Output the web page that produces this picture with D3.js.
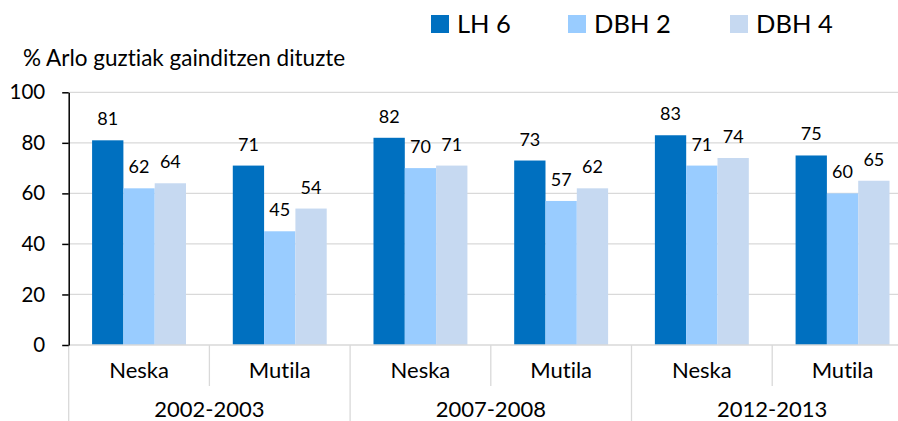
<!DOCTYPE html>
<html><head><meta charset="utf-8">
<script src="https://cdn.jsdelivr.net/npm/d3@7"></script>
<style>
html,body{margin:0;padding:0;background:#fff;}
svg{display:block;font-family:Lato, "Open Sans", sans-serif;font-variant-ligatures:none;}
svg text{font-variant-ligatures:none;font-feature-settings:"liga" 0, "clig" 0;}
</style></head>
<body>
<svg id="chart" width="898" height="421"></svg>
<script>
const years = ["2002-2003","2007-2008","2012-2013"];
const genders = ["Neska","Mutila"];
const series = ["LH 6","DBH 2","DBH 4"];
const colors = ["#0070C0","#99CCFF","#C6D9F1"];
const lh6  = [81,71,82,73,83,75];
const dbh2 = [62,45,70,57,71,60];
const dbh4 = [64,54,71,62,74,65];
const yTicks = [0,20,40,60,80,100];
const yTitle = "% Arlo guztiak gainditzen dituzte";

const values = [lh6, dbh2, dbh4];
const cats = [];
years.forEach((y,i)=>genders.forEach((g,j)=>cats.push({id:i*2+j, year:y, gender:g})));

const svg = d3.select("#chart");
const x0 = 68.7, catW = 140.7;
const x = d3.scaleBand().domain(cats.map(c=>c.id)).range([x0, x0+catW*cats.length]).padding(0);
const xs = d3.scaleBand().domain(series).range([0, x.bandwidth()]).paddingInner(0).paddingOuter(0.747);
const y = d3.scaleLinear().domain([0,100]).range([345, 92.3]);
const gridColor = "#d9d9d9";

// gridlines
svg.append("g").selectAll("line").data(yTicks.filter(t=>t>0)).join("line")
  .attr("x1", x0).attr("x2", 898).attr("y1", d=>y(d)).attr("y2", d=>y(d))
  .attr("stroke", gridColor).attr("stroke-width", 1.3);

// bars
series.forEach((s,si)=>{
  svg.append("g").selectAll("rect").data(cats).join("rect")
    .attr("x", c=>x(c.id)+xs(s)).attr("width", xs.bandwidth())
    .attr("y", c=>y(values[si][c.id])).attr("height", c=>y(0)-y(values[si][c.id]))
    .attr("fill", colors[si]);
  svg.append("g").selectAll("text").data(cats).join("text")
    .attr("x", c=>x(c.id)+xs(s)+xs.bandwidth()/2)
    .attr("y", c=>y(values[si][c.id])-15)
    .attr("text-anchor","middle").attr("font-size", 18).attr("fill","#000")
    .text(c=>values[si][c.id]);
});

// x axis line
svg.append("line").attr("x1", x0).attr("x2", 898).attr("y1", y(0)).attr("y2", y(0))
  .attr("stroke", gridColor).attr("stroke-width", 1.5);

// category dividers
cats.forEach((c,i)=>{
  const xx = x(c.id);
  const full = (i % 2 === 0);
  svg.append("line").attr("x1", xx).attr("x2", xx).attr("y1", y(0)).attr("y2", full ? 421 : 386)
    .attr("stroke", gridColor).attr("stroke-width", 1.3);
});

// category labels
svg.append("g").selectAll("text").data(cats).join("text")
  .attr("x", c=>x(c.id)+x.bandwidth()/2).attr("y", 378)
  .attr("text-anchor","middle").attr("font-size", 22).attr("fill","#000")
  .text(c=>c.gender);
svg.append("g").selectAll("text").data(years).join("text")
  .attr("x", (d,i)=>x(i*2)+x.bandwidth()).attr("y", 417)
  .attr("text-anchor","middle").attr("font-size", 22).attr("fill","#000")
  .text(d=>d);

// y axis
const yAxis = d3.axisLeft(y).tickValues(yTicks).tickSize(6.5).tickPadding(17).tickSizeOuter(0);
const ya = svg.append("g").attr("transform", `translate(${x0},0)`).call(yAxis);
ya.select(".domain").attr("stroke","#000").attr("stroke-width",1.5);
ya.selectAll(".tick line").attr("stroke","#000").attr("stroke-width",1.5);
ya.selectAll(".tick text").attr("font-size", 20.5).attr("font-family","Lato, sans-serif").attr("fill","#000");

// y title
svg.append("text").attr("x", 23).attr("y", 66).attr("font-size", 22.5).attr("fill","#000").text(yTitle);

// legend
const legX = [431, 568, 730];
series.forEach((s,i)=>{
  svg.append("rect").attr("x", legX[i]).attr("y", 15).attr("width", 18).attr("height", 18).attr("fill", colors[i]);
  svg.append("text").attr("x", legX[i]+26).attr("y", 33).attr("font-size", 25.5).attr("fill","#000").text(s);
});
</script>
</body></html>
